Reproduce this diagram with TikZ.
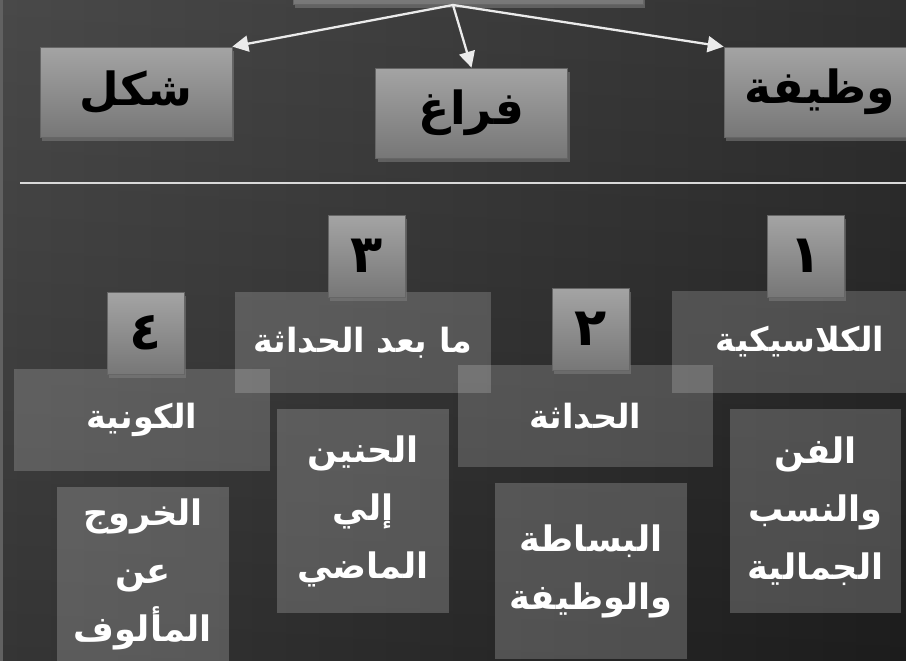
\documentclass[tikz,border=0pt]{standalone}
\usepackage{fontspec}
\newfontfamily\arabicfont[Script=Arabic]{DejaVu Sans}
\TeXXeTstate=1
\usetikzlibrary{arrows.meta,shadows}
\newcommand{\artxt}[1]{{\arabicfont\bfseries\beginR #1\endR}}
\definecolor{bgA}{HTML}{3A3A3A}
\definecolor{bgB}{HTML}{1F1F1F}
\definecolor{boxtop}{HTML}{A4A4A4}
\definecolor{boxbot}{HTML}{777777}
\tikzset{
    topbox/.style={draw=black!60, line width=.4pt, top color=boxtop, bottom color=boxbot,
        minimum width=3.84cm, minimum height=1.8cm, inner sep=0pt,
        drop shadow={shadow xshift=1.2pt, shadow yshift=-2.2pt, opacity=.55},
        font=\fontsize{26}{30}\selectfont, text=black},
    numbox/.style={topbox, minimum width=1.54cm, minimum height=1.64cm,
        font=\fontsize{30}{34}\selectfont},
    glassbox/.style={fill=white, fill opacity=.18, text opacity=1, inner sep=0pt,
        minimum width=5.12cm, minimum height=2.04cm,
        font=\fontsize{19}{24}\selectfont, text=white},
    notebox/.style={fill=white, fill opacity=.2, text opacity=1, inner sep=0pt,
        minimum width=3.44cm, align=center,
        font=\fontsize{20}{33}\selectfont, text=white},
    arr/.style={draw=white!92!black, line width=1.3pt, -{Triangle[length=.32cm, width=.32cm]}}
}
\begin{document}
\begin{tikzpicture}[x=0.02cm, y=-0.02cm]
    \useasboundingbox (0,0) rectangle (906,661);
    \clip (0,0) rectangle (906,661);
    % background
    \shade[left color=bgA, right color=bgB] (0,0) rectangle (906,661);
    \shade[top color=white, bottom color=black, opacity=.08] (0,0) rectangle (906,661);
    \fill[black!62] (0,0) rectangle (3,661);

    % top row
    \node [topbox, minimum width=7cm, minimum height=1.68cm] (main) at (468,-38) {};
    \coordinate (hub) at (453,5);
    \node [topbox] (shakl) at (136,92) {\artxt{شكل}};
    \node [topbox] (faragh) at (471.5,113) {\artxt{فراغ}};
    \node [topbox] (wazifa) at (820,92) {\artxt{وظيفة}};
    \draw [arr] (hub) -- (shakl.north east);
    \draw [arr] (hub) -- (faragh.north);
    \draw [arr] (hub) -- (wazifa.north west);

    \draw [white!85!black, line width=1.2pt] (20,183) -- (906,183);

    % periods
    \node [glassbox] (classic) at (800,342) {\artxt{الكلاسيكية}};
    \node [glassbox] (modern) at (585.5,416) {\artxt{الحداثة}};
    \node [glassbox] (postmod) at (363,342.5) {\artxt{ما بعد الحداثة}};
    \node [glassbox] (cosmic) at (142,420) {\artxt{الكونية}};

    \node [numbox] (n1) at (805.5,256) {\artxt{١}};
    \node [numbox] (n2) at (590.5,329) {\artxt{٢}};
    \node [numbox] (n3) at (366.5,256) {\artxt{٣}};
    \node [numbox] (n4) at (145.5,333) {\artxt{٤}};

    % notes
    \node [notebox, minimum height=4.08cm] (art) at (815.5,511)
        {\artxt{الفن}\\\artxt{والنسب}\\\artxt{الجمالية}};
    \node [notebox, minimum width=3.84cm, minimum height=3.52cm] (simple) at (591,571)
        {\artxt{البساطة}\\\artxt{والوظيفة}};
    \node [notebox, minimum height=4.08cm] (past) at (363,511)
        {\artxt{الحنين}\\\artxt{إلي}\\\artxt{الماضي}};
    \node [notebox, minimum height=3.48cm] (exit) at (143,574)
        {\artxt{الخروج}\\\artxt{عن}\\\artxt{المألوف}};
\end{tikzpicture}
\end{document}
